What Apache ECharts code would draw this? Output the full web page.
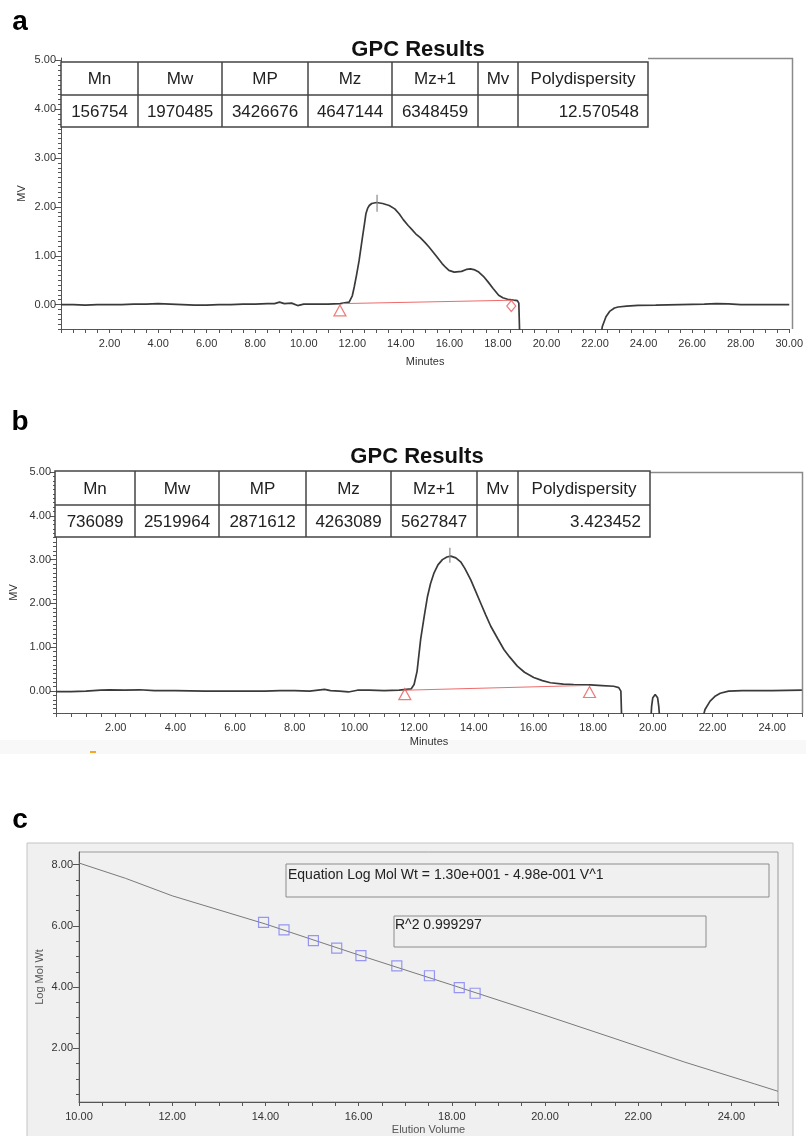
<!DOCTYPE html>
<html><head><meta charset="utf-8">
<script src="https://cdn.jsdelivr.net/npm/echarts@6/dist/echarts.min.js"></script>
<style>html,body{margin:0;padding:0;background:#fff}#c{width:806px;height:1136px}</style>
</head><body><div id="c"></div>
<script>
// ---------- Panel a data ----------
const aTableHeaders = ['Mn','Mw','MP','Mz','Mz+1','Mv','Polydispersity'];
const aTableValues  = ['156754','1970485','3426676','4647144','6348459','','12.570548'];
const aXLabels = [2,4,6,8,10,12,14,16,18,20,22,24,26,28,30];
const aYLabels = [0,1,2,3,4,5];
const aTrace1 = [[0.0,0.00],[0.5,0.00],[1.0,-0.01],[1.5,0.00],[2.0,0.00],[2.5,0.00],[3.0,0.01],[3.5,0.01],[4.0,0.02],[4.5,0.01],[5.0,0.00],[5.5,-0.01],[6.0,-0.01],[6.5,0.00],[7.0,0.00],[7.5,0.01],[8.0,0.01],[8.5,0.02],[8.8,0.02],[9.0,0.05],[9.2,0.02],[9.5,0.03],[9.75,-0.02],[10.0,0.01],[10.5,0.01],[11.0,0.01],[11.5,0.02],[11.87,0.05],[12.0,0.18],[12.08,0.36],[12.18,0.62],[12.28,0.90],[12.35,1.14],[12.42,1.38],[12.5,1.65],[12.56,1.86],[12.63,1.97],[12.7,2.03],[12.8,2.07],[13.0,2.09],[13.25,2.07],[13.52,2.03],[13.75,1.96],[13.93,1.86],[14.1,1.74],[14.3,1.62],[14.45,1.54],[14.61,1.45],[14.8,1.37],[15.0,1.27],[15.16,1.18],[15.45,1.00],[15.7,0.84],[15.85,0.76],[15.98,0.70],[16.2,0.665],[16.5,0.68],[16.7,0.72],[16.87,0.73],[17.05,0.71],[17.21,0.665],[17.4,0.58],[17.6,0.46],[17.8,0.33],[18.03,0.19],[18.2,0.14],[18.4,0.11],[18.65,0.09],[18.8,0.08],[18.86,0.03],[18.9,-0.7]];
const aTrace2 = [[22.22,-0.7],[22.3,-0.45],[22.45,-0.25],[22.6,-0.14],[22.8,-0.07],[22.95,-0.05],[23.3,-0.03],[23.77,-0.015],[24.5,-0.01],[25.5,0.0],[26.5,0.01],[27.0,0.02],[27.5,0.015],[28.0,0.0],[29.0,0.0],[30.0,0.0]];
const aBaseline = [[11.6,0.02],[18.65,0.09]];
const aStartMark = [[11.49,-0.12]];
const aEndMark = [[18.55,-0.03]];
const aPeakTick = [[13.02,1.90],[13.02,2.25]];

// ---------- Panel b data ----------
const bTableHeaders = ['Mn','Mw','MP','Mz','Mz+1','Mv','Polydispersity'];
const bTableValues  = ['736089','2519964','2871612','4263089','5627847','','3.423452'];
const bXLabels = [2,4,6,8,10,12,14,16,18,20,22,24];
const bYLabels = [0,1,2,3,4,5];
const bTrace1 = [[0,-0.01],[0.5,-0.01],[1.0,0.0],[1.5,0.02],[1.8,0.03],[2.3,0.02],[2.8,0.03],[3.3,0.01],[4.0,0.01],[5.0,0.0],[6.0,0.0],[7.0,0.0],[7.5,0.01],[8.0,0.01],[8.5,0.0],[9.0,0.04],[9.2,0.01],[9.5,0.0],[9.8,-0.02],[10.1,0.02],[10.5,0.02],[11.0,0.01],[11.5,0.02],[11.9,0.05],[12.0,0.15],[12.1,0.45],[12.22,1.18],[12.35,1.75],[12.45,2.16],[12.55,2.45],[12.67,2.70],[12.8,2.88],[12.95,3.00],[13.1,3.06],[13.23,3.08],[13.4,3.04],[13.56,2.95],[13.7,2.80],[13.9,2.54],[14.05,2.30],[14.23,2.01],[14.4,1.74],[14.57,1.48],[14.8,1.20],[15.01,0.95],[15.2,0.78],[15.46,0.57],[15.7,0.43],[16.01,0.31],[16.3,0.24],[16.57,0.19],[17.0,0.16],[17.35,0.15],[17.91,0.14],[18.3,0.125],[18.69,0.11],[18.86,0.08],[18.93,0.0],[18.96,-0.7]];
const bTrace2 = [[19.93,-0.7],[19.96,-0.35],[20.0,-0.15],[20.08,-0.08],[20.16,-0.15],[20.2,-0.35],[20.24,-0.7]];
const bTrace3 = [[21.64,-0.7],[21.75,-0.42],[21.92,-0.23],[22.1,-0.11],[22.26,-0.05],[22.54,0.0],[23.0,0.01],[24.0,0.01],[25.0,0.02]];
const bBaseline = [[11.69,0.02],[17.85,0.13]];
const bMarks = [[11.69,-0.07],[17.88,-0.02]];
const bPeakTick = [[13.2,2.93],[13.2,3.27]];

// ---------- Panel c data ----------
const cXLabels = [10,12,14,16,18,20,22,24];
const cYLabels = [2,4,6,8];
const cCalVolume = [13.96,14.40,15.03,15.53,16.05,16.82,17.52,18.16,18.50];
const cCalLogMW  = [6.11,5.87,5.52,5.27,5.03,4.69,4.37,3.98,3.80];
const cFitLine = [[10,8.05],[11,7.55],[12,6.98],[14,6.06],[16,5.05],[18,4.07],[20,3.08],[21.5,2.32],[23,1.55],[24.5,0.84],[25,0.60]];
const cEquation = 'Equation Log Mol Wt = 1.30e+001 - 4.98e-001 V^1';
const cR2 = 'R^2 0.999297';

// ---------- helpers ----------
function range(a,b,s){const r=[];for(let v=a;v<=b+1e-9;v+=s)r.push(+v.toFixed(3));return r;}
const FONT = '"Liberation Sans", Arial, sans-serif';
const fmt = v => Number(v).toFixed(2);
const AX = '#555';

function xAx(gi,min,max,labels,name,nameGap,nameColor){
  return {type:'value',gridIndex:gi,min:min,max:max,
    name:name,nameLocation:'middle',nameGap:nameGap,
    nameTextStyle:{fontFamily:FONT,fontSize:11,color:nameColor||'#333'},
    axisLine:{show:true,onZero:false,lineStyle:{color:AX,width:1}},
    axisTick:{show:true,customValues:range(min,max,0.5),length:4,lineStyle:{color:AX}},
    axisLabel:{customValues:labels,formatter:fmt,color:'#333',fontSize:11,fontFamily:FONT,margin:9},
    splitLine:{show:false}};
}
function yMinor(gi,min,max,ticks,name,nameGap,nameColor){
  return {type:'value',gridIndex:gi,min:min,max:max,position:'left',
    name:name,nameLocation:'middle',nameGap:nameGap,nameRotate:90,
    nameTextStyle:{fontFamily:FONT,fontSize:11,color:nameColor||'#333'},
    axisLine:{show:true,onZero:false,lineStyle:{color:AX,width:1}},
    axisTick:{show:true,customValues:ticks,length:3,lineStyle:{color:AX}},
    axisLabel:{show:false},splitLine:{show:false}};
}
function yMajor(gi,min,max,labels,margin){
  return {type:'value',gridIndex:gi,min:min,max:max,position:'left',
    axisLine:{show:false,onZero:false},
    axisTick:{show:true,customValues:labels,length:6,lineStyle:{color:AX}},
    axisLabel:{customValues:labels,formatter:fmt,color:'#333',fontSize:11,fontFamily:FONT,margin:margin},
    splitLine:{show:false}};
}
function lineS(xi,yi,data,color,width,z){
  return {type:'line',xAxisIndex:xi,yAxisIndex:yi,data:data,symbol:'none',showSymbol:false,
    lineStyle:{color:color,width:width},clip:true,z:z||2,animation:false,silent:true};
}
function markS(xi,yi,data,symbol,size,color){
  return {type:'scatter',xAxisIndex:xi,yAxisIndex:yi,data:data,symbol:symbol,symbolSize:size,
    itemStyle:{color:'rgba(0,0,0,0)',borderColor:color,borderWidth:1.2},z:4,animation:false,silent:true};
}
function txt(text,x,y,size,opts){
  opts=opts||{};
  return {type:'text',z:opts.z||20,x:x,y:y,rotation:opts.rot||0,
    style:{text:text,x:0,y:0,fontSize:size,fontFamily:FONT,fontWeight:opts.weight||'normal',
      fill:opts.color||'#222',align:opts.align||'center',textAlign:opts.align||'center',
      verticalAlign:'middle',textVerticalAlign:'middle'}};
}
function table(cols,top,mid,bottom,headers,values){
  const els=[];
  const st={stroke:'#444',lineWidth:1.5};
  els.push({type:'rect',z:15,shape:{x:cols[0],y:top,width:cols[cols.length-1]-cols[0],height:bottom-top},style:{fill:'#fff',stroke:'#444',lineWidth:1.5}});
  els.push({type:'line',z:16,shape:{x1:cols[0],y1:mid,x2:cols[cols.length-1],y2:mid},style:st});
  for(let i=1;i<cols.length-1;i++) els.push({type:'line',z:16,shape:{x1:cols[i],y1:top,x2:cols[i],y2:bottom},style:st});
  for(let i=0;i<headers.length;i++){
    const cx=(cols[i]+cols[i+1])/2;
    els.push(txt(headers[i],cx,(top+mid)/2+1,17,{color:'#222'}));
    if(values[i]!==''){
      if(i===headers.length-1) els.push(txt(values[i],cols[i+1]-9,(mid+bottom)/2+1,17,{align:'right',color:'#222'}));
      else els.push(txt(values[i],cx,(mid+bottom)/2+1,17,{color:'#222'}));
    }
  }
  return els;
}

const graphics = [].concat(
  [
    {type:'rect',z:-5,shape:{x:0,y:740,width:806,height:14},style:{fill:'#f8f8f8'}},
    {type:'rect',z:-4,shape:{x:90,y:751,width:6,height:2},style:{fill:'#f5a623'}},
    {type:'rect',z:-3,shape:{x:27,y:843,width:766,height:310},style:{fill:'#f0f0f0',stroke:'#c4c4c4',lineWidth:1}},
    txt('a',20,22,28,{weight:'bold',color:'#000'}),
    txt('b',20,422,28,{weight:'bold',color:'#000'}),
    txt('c',20,820,28,{weight:'bold',color:'#000'}),
    txt('GPC Results',418,50,22,{weight:'bold',color:'#111'}),
    txt('GPC Results',417,457,22,{weight:'bold',color:'#111'}),
    {type:'polyline',z:5,shape:{points:[[648,58.5],[792.5,58.5],[792.5,329]]},style:{fill:null,stroke:'#8a8a8a',lineWidth:1.5}},
    {type:'polyline',z:5,shape:{points:[[650,472.5],[802.5,472.5],[802.5,713]]},style:{fill:null,stroke:'#8a8a8a',lineWidth:1.5}},
    {type:'rect',z:5,shape:{x:286,y:864,width:483,height:33},style:{fill:null,stroke:'#8c8c8c',lineWidth:1}},
    {type:'rect',z:5,shape:{x:394,y:916,width:312,height:31},style:{fill:null,stroke:'#8c8c8c',lineWidth:1}},
    txt(cEquation,288,875,14,{align:'left',color:'#222'}),
    txt(cR2,395,925,14,{align:'left',color:'#222'})
  ],
  table([61,138,222,308,392,478,518,648],62,95,127,aTableHeaders,aTableValues),
  table([55,135,219,306,391,477,518,650],471,505,537,bTableHeaders,bTableValues)
);

const option = {
  backgroundColor:'#fff',
  animation:false,
  grid:[
    {left:61,top:58,width:731,height:271},
    {left:55,top:472,width:747,height:241},
    {left:79,top:852,width:699,height:250,show:true,backgroundColor:'rgba(0,0,0,0)',borderColor:'#9a9a9a',borderWidth:1}
  ],
  xAxis:[
    xAx(0,0,30,aXLabels,'Minutes',27),
    xAx(1,0,25,bXLabels,'Minutes',23),
    xAx(2,10,25,cXLabels,'Elution Volume',22,'#555')
  ],
  yAxis:[
    yMinor(0,-0.5,5.05,range(-0.5,5.0,0.1),'MV',34),
    yMajor(0,-0.5,5.05,aYLabels,5),
    yMinor(1,-0.5,5.0,range(-0.5,5.0,0.1),'MV',37),
    yMajor(1,-0.5,5.0,bYLabels,5),
    yMinor(2,0.25,8.41,range(0.5,8.0,0.5),'Log Mol Wt',34,'#555'),
    yMajor(2,0.25,8.41,cYLabels,6)
  ],
  graphic:graphics,
  series:[
    lineS(0,0,aBaseline,'#ee6b6b',1,3),
    lineS(0,0,aTrace1,'#3a3a3a',1.7),
    lineS(0,0,aTrace2,'#3a3a3a',1.7),
    lineS(0,0,aPeakTick,'#888',1.2,3),
    markS(0,0,aStartMark,'triangle',[12,11],'#e85a5a'),
    markS(0,0,aEndMark,'diamond',[9,11],'#e85a5a'),
    lineS(1,2,bBaseline,'#ee6b6b',1,3),
    lineS(1,2,bTrace1,'#3a3a3a',1.7),
    lineS(1,2,bTrace2,'#3a3a3a',1.7),
    lineS(1,2,bTrace3,'#3a3a3a',1.7),
    lineS(1,2,bPeakTick,'#888',1.2,3),
    markS(1,2,bMarks,'triangle',[12,11],'#e85a5a'),
    lineS(2,4,cFitLine,'#7a7a7a',1),
    markS(2,4,cCalVolume.map((v,i)=>[v,cCalLogMW[i]]),'rect',10,'#7f7ff2')
  ]
};
const chart = echarts.init(document.getElementById('c'),null,{renderer:'canvas'});
chart.setOption(option);
</script></body></html>
